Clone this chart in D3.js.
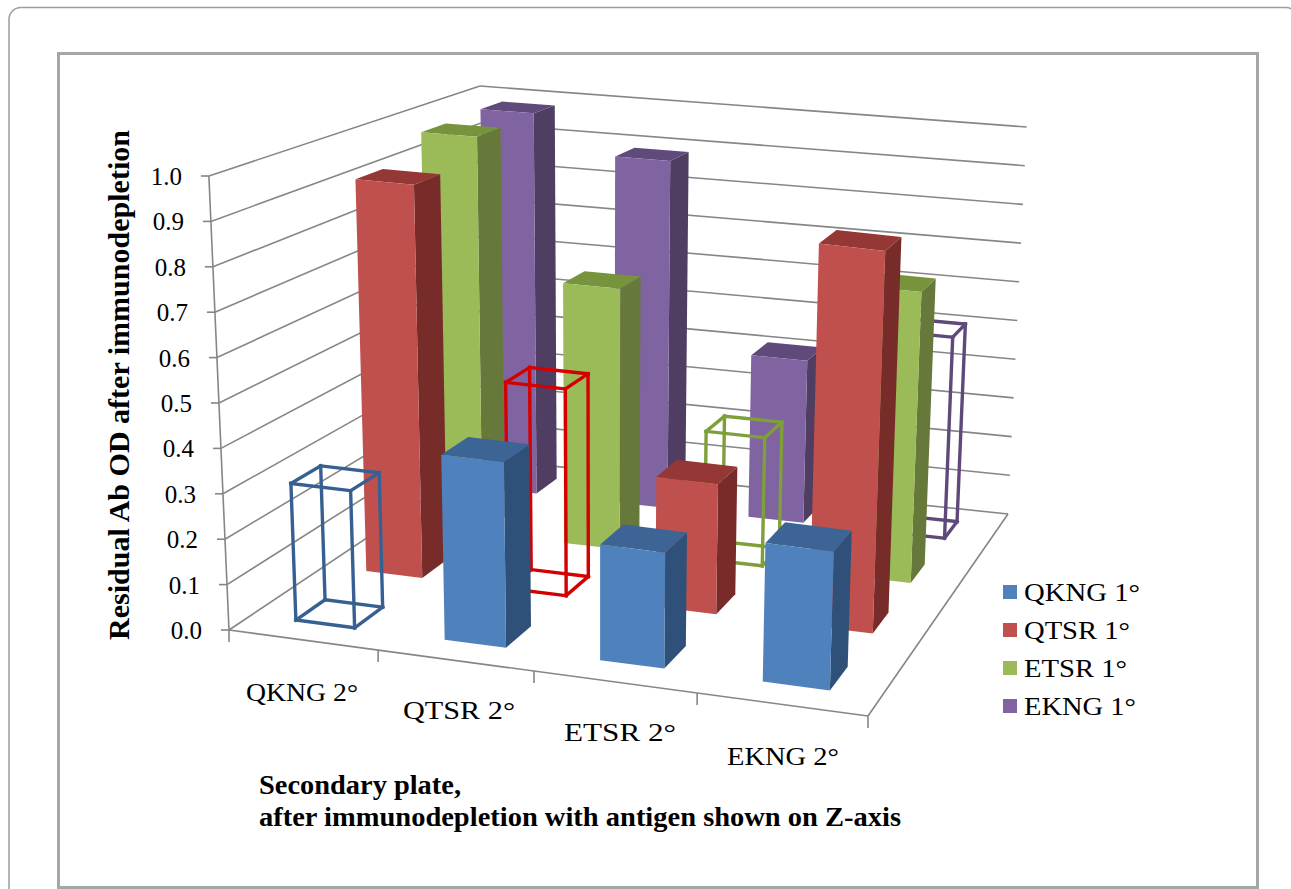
<!DOCTYPE html>
<html>
<head>
<meta charset="utf-8">
<script src="https://cdn.jsdelivr.net/npm/d3@7"></script>
<style>
  html, body { margin: 0; background: #fff; }
  svg { display: block; font-family: "Liberation Serif", serif; }
</style>
</head>
<body>
<div id="panel"></div>
<script>
// Data

const categories = ["QKNG 2°", "QTSR 2°", "ETSR 2°", "EKNG 2°"];
const seriesNames = ["QKNG 1°", "QTSR 1°", "ETSR 1°", "EKNG 1°"];
const qkngValues = [0.305, 0.41, 0.255, 0.305];
const qtsrValues = [0.92, 0.48, 0.30, 0.88];
const etsrValues = [0.975, 0.635, 0.31, 0.70];
const ekngValues = [0.98, 0.885, 0.41, 0.505];
const yTicks = [0, 0.1, 0.2, 0.3, 0.4, 0.5, 0.6, 0.7, 0.8, 0.9, 1];

const seriesValues = [qkngValues, qtsrValues, etsrValues, ekngValues];

const faceColors = [
    { front: "#4f81bd", top: "#3c6494", side: "#2f5078", wire: "#376092" },
    { front: "#c0504d", top: "#953735", side: "#772c2a", wire: "#d40000" },
    { front: "#9bbb59", top: "#77933c", side: "#66783a", wire: "#7f9f3a" },
    { front: "#8064a2", top: "#604a7b", side: "#4f3d62", wire: "#5f497a" }
];

const width = 1291, height = 889;

const svg = d3.select("#panel").append("svg")
    .attr("width", width)
    .attr("height", height);

// Frames

svg.append("rect")
    .attr("x", 9).attr("y", 7.5)
    .attr("width", 1289).attr("height", 920)
    .attr("rx", 12)
    .attr("fill", "none").attr("stroke", "#9c9c9c").attr("stroke-width", 1.5);

svg.append("rect")
    .attr("x", 58.5).attr("y", 53.5)
    .attr("width", 1199).attr("height", 834)
    .attr("fill", "#fff").attr("stroke", "#a6a6a6").attr("stroke-width", 3);

// Perspective: unit square on the floor and at the 1.0 level -> screen

function squareToQuad(q) {
    const [[x0, y0], [x1, y1], [x2, y2], [x3, y3]] = q;
    const dx1 = x1 - x2, dx2 = x3 - x2, sx = x0 - x1 + x2 - x3;
    const dy1 = y1 - y2, dy2 = y3 - y2, sy = y0 - y1 + y2 - y3;
    const det = dx1 * dy2 - dx2 * dy1;
    const g = (sx * dy2 - dx2 * sy) / det;
    const h = (dx1 * sy - sx * dy1) / det;
    const a = x1 - x0 + g * x1, b = x3 - x0 + h * x3;
    const d = y1 - y0 + g * y1, e = y3 - y0 + h * y3;
    return (u, w) => {
        const k = g * u + h * w + 1;
        return [(a * u + b * w + x0) / k, (d * u + e * w + y0) / k];
    };
}

// corners: front-left, front-right, back-right, back-left
const floor = squareToQuad([[229, 630], [868, 716], [1008, 514], [485, 459]]);
const ceil = squareToQuad([[207, 176], [886, 256], [1030, 127], [483, 86]]);
// verticals lean towards this point below the picture
const vanish = [600, 9000];

const vScale = d3.scaleLinear().domain([0, 1]).range([0, 1]);
const uScale = d3.scaleBand().domain(categories).range([0, 1]).paddingInner(0.6).paddingOuter(0.3);
const wScale = d3.scaleBand().domain(seriesNames).range([0, 1]).paddingInner(0.6).paddingOuter(0.3);

function project(u, w, value) {
    const t = vScale(value);
    const p0 = floor(u, w), p1 = ceil(u, w);
    const y = p0[1] + (p1[1] - p0[1]) * t;
    const x = p0[0] + (p0[0] - vanish[0]) / (vanish[1] - p0[1]) * (p0[1] - y);
    return [x, y];
}

const poly = pts => "M" + pts.map(p => p.join(",")).join("L") + "Z";
const seg = (a, b) => "M" + a.join(",") + "L" + b.join(",");

// Walls and grid

const grid = svg.append("g")
    .attr("fill", "none").attr("stroke", "#868686").attr("stroke-width", 1.6);

yTicks.forEach(v => {
    grid.append("path").attr("d", seg(project(0, 0, v), project(0, 1, v)));
    grid.append("path").attr("d", seg(project(0, 1, v), project(1, 1, v)));
    const p = project(0, 0, v);
    grid.append("path").attr("d", seg([p[0] - 8, p[1]], p));
});

grid.append("path").attr("d", seg(project(0, 0, 0), project(0, 0, 1)));
grid.append("path").attr("d", seg(project(0, 0, 0), project(1, 0, 0)));
grid.append("path").attr("d", seg(project(1, 0, 0), project(1, 1, 0)));

d3.range(5).forEach(i => {
    const p = project(i / 4, 0, 0);
    grid.append("path").attr("d", seg(p, [p[0], p[1] + 12]));
});

// Bars, back row first

const bars = seriesNames.flatMap((s, si) =>
    categories.map((c, ci) => ({ s, c, si, ci, value: seriesValues[si][ci], hollow: si === ci }))
).sort((a, b) => d3.descending(a.si, b.si) || d3.ascending(a.ci, b.ci));

const barGroups = svg.selectAll("g.bar")
    .data(bars)
    .join("g")
    .attr("class", "bar");

function barCorners(d) {
    const u0 = uScale(d.c), u1 = u0 + uScale.bandwidth();
    const w0 = wScale(d.s), w1 = w0 + wScale.bandwidth();
    return {
        fl0: project(u0, w0, 0), fr0: project(u1, w0, 0), br0: project(u1, w1, 0), bl0: project(u0, w1, 0),
        fl1: project(u0, w0, d.value), fr1: project(u1, w0, d.value), br1: project(u1, w1, d.value), bl1: project(u0, w1, d.value)
    };
}

barGroups.each(function(d) {
    const g = d3.select(this);
    const c = barCorners(d);
    const col = faceColors[d.si];
    if (d.hollow) {
        const edges = [
            [c.bl0, c.br0], [c.bl0, c.bl1], [c.br0, c.br1], [c.bl1, c.br1],
            [c.fl0, c.bl0], [c.fr0, c.br0], [c.fl1, c.bl1], [c.fr1, c.br1],
            [c.fl0, c.fr0], [c.fl0, c.fl1], [c.fr0, c.fr1], [c.fl1, c.fr1]
        ];
        g.selectAll("path").data(edges).join("path")
            .attr("d", e => seg(e[0], e[1]))
            .attr("fill", "none")
            .attr("stroke", col.wire)
            .attr("stroke-width", 3.4)
            .attr("stroke-linecap", "square");
    } else {
        g.append("path").attr("d", poly([c.fr0, c.br0, c.br1, c.fr1])).attr("fill", col.side);
        g.append("path").attr("d", poly([c.fl1, c.fr1, c.br1, c.bl1])).attr("fill", col.top);
        g.append("path").attr("d", poly([c.fl0, c.fr0, c.fr1, c.fl1])).attr("fill", col.front);
    }
});

// Text

function fitted(sel, len) {
    return sel.attr("textLength", len).attr("lengthAdjust", "spacingAndGlyphs");
}

svg.append("g").selectAll("text")
    .data(yTicks)
    .join("text")
    .attr("x", v => project(0, 0, v)[0] - 27)
    .attr("y", v => project(0, 0, v)[1] + 9)
    .attr("text-anchor", "end")
    .attr("font-size", 25)
    .attr("fill", "#000")
    .text(d3.format(".1f"));

const catLabelX = [246, 403, 564, 727];
const catLabelY = [701, 719, 741, 765];

fitted(svg.append("g").selectAll("text")
    .data(categories)
    .join("text")
    .attr("x", (d, i) => catLabelX[i])
    .attr("y", (d, i) => catLabelY[i])
    .attr("font-size", 25)
    .text(d => d), 112);

const legend = svg.append("g").selectAll("g")
    .data(seriesNames)
    .join("g")
    .attr("transform", (d, i) => `translate(1003,${592 + i * 38})`);

legend.append("rect")
    .attr("x", 0).attr("y", -7)
    .attr("width", 14).attr("height", 14)
    .attr("fill", (d, i) => faceColors[i].front);

legend.append("text")
    .attr("x", 21).attr("y", 9)
    .attr("font-size", 25)
    .attr("textLength", (d, i) => [116, 106, 103, 112][i])
    .attr("lengthAdjust", "spacingAndGlyphs")
    .text(d => d);

fitted(svg.append("text")
    .attr("transform", "translate(129,640) rotate(-90)")
    .attr("font-size", 29)
    .attr("font-weight", "bold")
    .text("Residual Ab OD after immunodepletion"), 510);

fitted(svg.append("text")
    .attr("x", 259).attr("y", 794)
    .attr("font-size", 27)
    .attr("font-weight", "bold")
    .text("Secondary plate,"), 202);

fitted(svg.append("text")
    .attr("x", 259).attr("y", 826)
    .attr("font-size", 27)
    .attr("font-weight", "bold")
    .text("after immunodepletion with antigen shown on Z-axis"), 642);
</script>
</body>
</html>
